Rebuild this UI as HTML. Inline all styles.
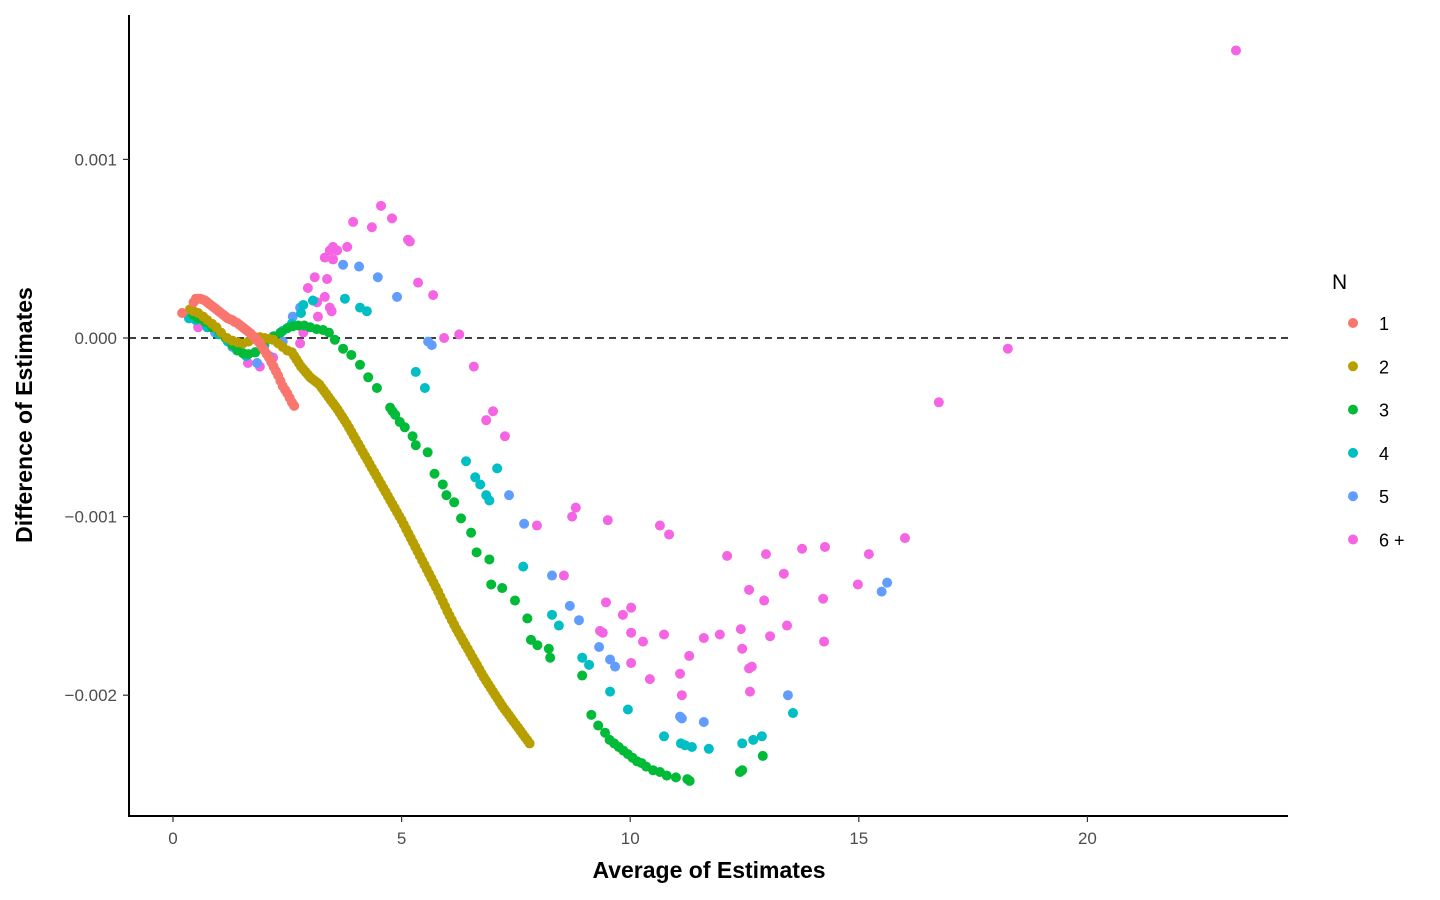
<!DOCTYPE html>
<html><head><meta charset="utf-8"><style>
body{margin:0;background:#fff;}
svg{display:block;font-family:"Liberation Sans",sans-serif;}
</style></head><body>
<svg id="chart" width="1440" height="900">
<g id="points"></g>
<g id="axes"></g>
</svg>
<script>
const xTicks=[0,5,10,15,20];
const yTicks=[0.001,0,-0.001,-0.002];
const yTickLabels=["0.001","0.000","\u22120.001","\u22120.002"];
const seriesNames=["1","2","3","4","5","6 +"];
const colors=["#F8766D","#B79F00","#00BA38","#00BFC4","#619CFF","#F564E3"];
// y values in units of 1e-3
const s1x=[0.2,0.45,0.5,0.55,0.6,0.65,0.7,0.75,0.8,0.85,0.9,0.95,1.0,1.05,1.1,1.15,1.2,1.25,1.3,1.35,1.4,1.45,1.5,1.55,1.6,1.65,1.7,1.75,1.8,1.85,1.9,1.95,2.0,2.05,2.1,2.15,2.2,2.25,2.3,2.35,2.4,2.45,2.5,2.55,2.6,2.65];
const s1y=[0.14,0.20,0.22,0.22,0.22,0.215,0.21,0.20,0.19,0.18,0.17,0.16,0.15,0.14,0.13,0.12,0.11,0.105,0.10,0.09,0.085,0.075,0.065,0.055,0.045,0.035,0.025,0.012,0.0,-0.015,-0.03,-0.05,-0.07,-0.09,-0.11,-0.135,-0.16,-0.185,-0.21,-0.24,-0.27,-0.29,-0.31,-0.335,-0.36,-0.38];
const s2x=[0.37,0.45,0.55,0.66,0.75,0.85,0.95,1.05,1.18,1.3,1.42,1.53,1.65,1.78,1.9,2.0,2.1,2.19,2.3,2.4,2.5,
2.6,2.65,2.7,2.75,2.8,2.85,2.9,2.95,3.0,3.05,3.1,3.15,3.2,3.25,3.3,3.35,3.4,3.45,3.5,3.55,3.6,3.65,3.7,3.75,3.8,3.85,3.9,3.95,
4.0,4.05,4.1,4.15,4.2,4.25,4.3,4.35,4.4,4.45,4.5,4.55,4.6,4.65,4.7,4.75,4.8,4.85,4.9,4.95,
5.0,5.05,5.1,5.15,5.2,5.25,5.3,5.35,5.4,5.45,5.5,5.55,5.6,5.65,5.7,5.75,5.8,5.85,5.9,5.95,
6.0,6.05,6.1,6.15,6.2,6.25,6.3,6.35,6.4,6.45,6.5,6.55,6.6,6.65,6.7,6.75,6.8,6.85,6.9,6.95,
7.0,7.05,7.1,7.15,7.2,7.25,7.3,7.35,7.4,7.45,7.5,7.55,7.6,7.65,7.7,7.75,7.8];
const s2y=[0.16,0.15,0.14,0.12,0.10,0.08,0.06,0.03,0.0,-0.015,-0.025,-0.03,-0.02,-0.005,0.005,0.0,-0.005,-0.01,-0.03,-0.05,-0.07,
-0.08,-0.10,-0.12,-0.14,-0.16,-0.175,-0.19,-0.205,-0.22,-0.23,-0.24,-0.25,-0.26,-0.278,-0.295,-0.312,-0.33,-0.348,-0.365,-0.382,-0.40,-0.42,-0.44,-0.46,-0.48,-0.502,-0.525,-0.548,
-0.57,-0.592,-0.615,-0.638,-0.66,-0.682,-0.705,-0.728,-0.75,-0.772,-0.795,-0.818,-0.84,-0.862,-0.885,-0.908,-0.93,-0.952,-0.975,-0.998,
-1.02,-1.045,-1.07,-1.095,-1.12,-1.145,-1.17,-1.195,-1.22,-1.245,-1.27,-1.295,-1.32,-1.345,-1.37,-1.395,-1.42,-1.448,-1.475,-1.502,
-1.53,-1.555,-1.58,-1.605,-1.63,-1.652,-1.675,-1.698,-1.72,-1.742,-1.765,-1.788,-1.81,-1.832,-1.855,-1.878,-1.90,-1.92,-1.94,-1.96,
-1.98,-2.0,-2.02,-2.04,-2.06,-2.078,-2.095,-2.112,-2.13,-2.148,-2.165,-2.182,-2.20,-2.218,-2.235,-2.252,-2.27];
const s3x=[0.44,0.55,0.7,0.85,1.03,1.15,1.3,1.42,1.53,1.65,1.8,1.95,2.05,2.2,2.35,2.5,2.62,2.74,2.87,3.0,3.14,3.28,3.41,3.54,3.72,3.9,4.09,4.27,4.46,4.75,4.8,4.86,4.96,5.07,5.24,5.31,5.57,5.72,5.9,5.98,6.15,6.3,6.52,6.64,6.92,6.96,7.2,7.48,7.75,7.83,7.97,8.22,8.25,8.95,9.15,9.3,9.45,9.55,9.65,9.75,9.85,9.95,10.05,10.15,10.25,10.35,10.5,10.65,10.8,11.0,11.25,11.3,12.4,12.45,12.9];
const s3y=[0.13,0.11,0.09,0.06,0.03,0.0,-0.04,-0.07,-0.085,-0.09,-0.08,-0.05,-0.01,0.01,0.03,0.055,0.065,0.07,0.07,0.06,0.05,0.045,0.03,-0.01,-0.06,-0.095,-0.15,-0.22,-0.28,-0.39,-0.41,-0.43,-0.47,-0.50,-0.55,-0.60,-0.64,-0.76,-0.82,-0.88,-0.92,-1.01,-1.09,-1.20,-1.24,-1.38,-1.40,-1.47,-1.57,-1.69,-1.72,-1.74,-1.79,-1.89,-2.11,-2.17,-2.21,-2.25,-2.27,-2.29,-2.31,-2.33,-2.35,-2.37,-2.38,-2.40,-2.42,-2.43,-2.45,-2.46,-2.47,-2.48,-2.43,-2.42,-2.34];
const s4x=[0.35,0.5,0.75,1.0,1.2,1.4,1.6,1.8,2.0,2.2,2.4,2.6,2.8,2.85,3.06,3.76,4.09,4.24,5.31,5.51,6.41,6.61,6.72,6.85,6.92,7.09,7.66,8.29,8.44,8.95,9.1,9.56,9.95,10.74,11.11,11.2,11.35,11.72,12.45,12.69,12.88,13.56];
const s4y=[0.11,0.10,0.06,0.02,-0.02,-0.07,-0.10,-0.08,-0.04,0.0,0.04,0.08,0.14,0.185,0.21,0.22,0.17,0.15,-0.19,-0.28,-0.69,-0.78,-0.82,-0.88,-0.91,-0.73,-1.28,-1.55,-1.61,-1.79,-1.83,-1.98,-2.08,-2.23,-2.27,-2.28,-2.29,-2.30,-2.27,-2.25,-2.23,-2.10];
const s5x=[0.92,1.3,1.6,1.84,2.1,2.4,2.62,2.78,3.72,4.07,4.48,4.9,5.58,5.66,7.35,7.68,8.29,8.68,8.88,9.32,9.56,9.67,11.09,11.13,11.61,13.45,15.5,15.62];
const s5y=[0.03,-0.05,-0.1,-0.14,-0.1,-0.02,0.12,0.17,0.41,0.40,0.34,0.23,-0.02,-0.04,-0.88,-1.04,-1.33,-1.50,-1.58,-1.73,-1.80,-1.84,-2.12,-2.13,-2.15,-2.0,-1.42,-1.37];
const s6x=[0.55,0.75,1.64,1.9,2.19,2.5,2.78,2.85,2.95,3.1,3.15,3.17,3.32,3.37,3.32,3.43,3.5,3.59,3.5,3.43,3.47,3.81,3.94,4.35,4.55,4.79,5.14,5.18,5.36,5.69,5.93,6.26,6.58,6.85,7.0,7.26,7.96,8.81,8.73,9.51,10.65,10.85,8.55,12.12,12.97,13.76,14.26,15.22,13.36,12.6,12.93,14.22,14.98,9.47,10.02,9.84,9.34,9.4,10.02,10.28,10.74,11.61,11.96,12.42,13.06,13.43,14.24,12.45,11.29,10.02,11.09,12.66,12.6,10.43,11.13,12.62,16.01,16.75,18.26,23.25];
const s6y=[0.06,0.06,-0.14,-0.16,-0.11,-0.07,-0.03,0.03,0.28,0.34,0.2,0.12,0.23,0.33,0.45,0.49,0.51,0.49,0.44,0.17,0.15,0.51,0.65,0.62,0.74,0.67,0.55,0.54,0.31,0.24,0.0,0.02,-0.16,-0.46,-0.41,-0.55,-1.05,-0.95,-1.0,-1.02,-1.05,-1.10,-1.33,-1.22,-1.21,-1.18,-1.17,-1.21,-1.32,-1.41,-1.47,-1.46,-1.38,-1.48,-1.51,-1.55,-1.64,-1.65,-1.65,-1.70,-1.66,-1.68,-1.66,-1.63,-1.67,-1.61,-1.70,-1.74,-1.78,-1.82,-1.88,-1.84,-1.85,-1.91,-2.0,-1.98,-1.12,-0.36,-0.06,1.61];

const sx=[s1x,s2x,s3x,s4x,s5x,s6x], sy=[s1y,s2y,s3y,s4y,s5y,s6y];
const X=v=>173+v*45.72;
const Y=v=>338-v*178.6; // v in 1e-3
const NS="http://www.w3.org/2000/svg";
function mk(tag,attrs,parent){const e=document.createElementNS(NS,tag);for(const k in attrs)e.setAttribute(k,attrs[k]);parent.appendChild(e);return e;}
const pts=document.getElementById('points'), ax=document.getElementById('axes'), svg=document.getElementById('chart');
const zl=mk('line',{x1:129,x2:1288,y1:Y(0),y2:Y(0),stroke:'#000','stroke-width':1.5,'stroke-dasharray':'7,5'},pts);


for(let s=5;s>=0;s--){
  for(let i=0;i<sx[s].length;i++){
    const c=mk('circle',{cx:X(sx[s][i]),cy:Y(sy[s][i]),r:5,fill:colors[s]},pts);
    
    
  }
}
const yl=mk('line',{x1:129,x2:129,y1:15,y2:817,stroke:'#000','stroke-width':2},ax);


const xl=mk('line',{x1:128,x2:1288,y1:816,y2:816,stroke:'#000','stroke-width':2},ax);


xTicks.forEach(t=>{
  const tk=mk('line',{x1:X(t),x2:X(t),y1:816,y2:822,stroke:'#333','stroke-width':1.2},ax);
  
  
  const tl=mk('text',{x:X(t),y:844,'text-anchor':'middle','font-size':17,fill:'#4d4d4d'},ax);
  tl.textContent=String(t);
  
  
});
yTicks.forEach((t,i)=>{
  const y=Y(t*1000);
  const tk=mk('line',{x1:123,x2:129,y1:y,y2:y,stroke:'#333','stroke-width':1.2},ax);
  
  
  const tl=mk('text',{x:117,y:y+6,'text-anchor':'end','font-size':17,fill:'#4d4d4d'},ax);
  tl.textContent=yTickLabels[i];
  
  
});
const xt=mk('text',{x:709,y:878,'text-anchor':'middle','font-size':23,'font-weight':'bold'},ax);
xt.textContent='Average of Estimates';


const yt=mk('text',{x:0,y:0,'text-anchor':'middle','font-size':23,'font-weight':'bold',transform:'translate(32,415) rotate(-90)'},ax);
yt.textContent='Difference of Estimates';


const lg=mk('g',{},svg);


const lt=mk('text',{x:1332,y:289,'font-size':21},lg);
lt.textContent='N';


seriesNames.forEach((n,i)=>{
  const y=323+i*43.3;
  const c=mk('circle',{cx:1353,cy:y,r:5,fill:colors[i]},lg);
  
  
  const t=mk('text',{x:1379,y:y+7,'font-size':18},lg);
  t.textContent=n;
  
  
});
</script>
</body></html>
